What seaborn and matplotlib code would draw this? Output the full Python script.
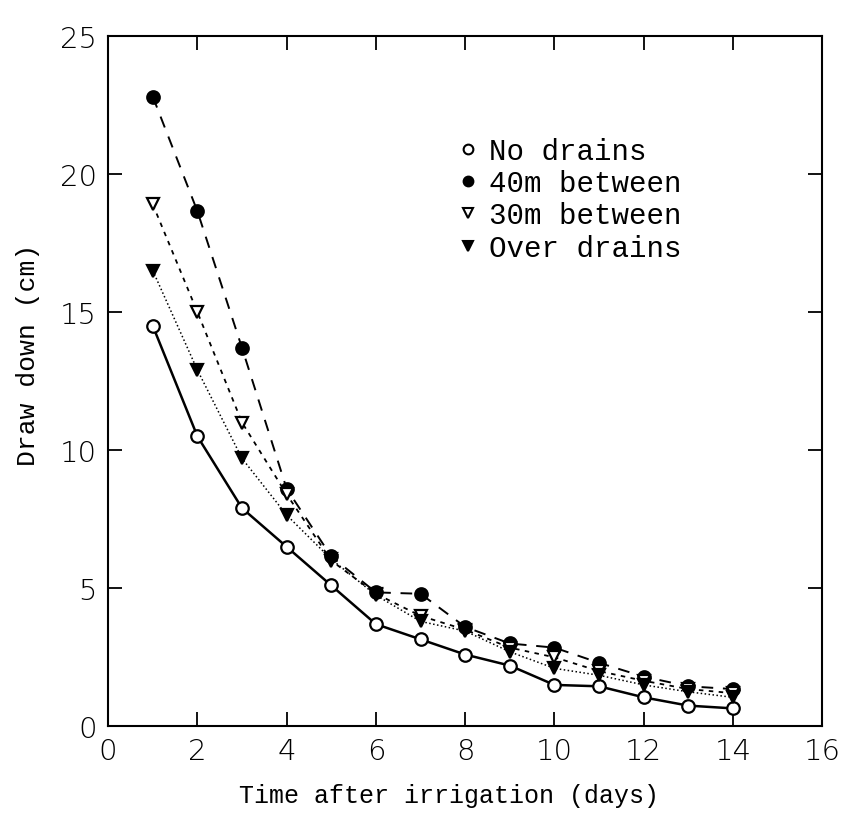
import pandas as pd
import matplotlib
matplotlib.use("Agg")
import matplotlib.pyplot as plt
from matplotlib.lines import Line2D
import seaborn as sns

# Days after irrigation
days = list(range(1, 15))

# Draw down (cm)
no_drains = [14.5, 10.5, 7.9, 6.5, 5.1, 3.7, 3.15, 2.6, 2.2, 1.5, 1.45, 1.05, 0.75, 0.65]
m40_between = [22.8, 18.65, 13.7, 8.6, 6.15, 4.85, 4.8, 3.6, 3.0, 2.85, 2.3, 1.8, 1.45, 1.35]
m30_between = [18.9, 15.0, 11.0, 8.4, 6.0, 4.8, 4.0, 3.5, 2.85, 2.5, 2.0, 1.65, 1.35, 1.2]
over_drains = [16.5, 12.9, 9.7, 7.65, 6.05, 4.75, 3.8, 3.45, 2.7, 2.1, 1.85, 1.5, 1.25, 1.05]

labels = ["No drains", "40m between", "30m between", "Over drains"]
series = [no_drains, m40_between, m30_between, over_drains]

xticks = [0, 2, 4, 6, 8, 10, 12, 14, 16]
yticks = [0, 5, 10, 15, 20, 25]

df = pd.concat(
    [pd.DataFrame({"day": days, "draw": vals, "treatment": lab}) for lab, vals in zip(labels, series)],
    ignore_index=True,
)

sns.set_style("ticks")
plt.rcParams["text.color"] = "black"
plt.rcParams["axes.labelcolor"] = "black"
mono = ["Liberation Mono", "DejaVu Sans Mono"]

fig = plt.figure(figsize=(8.45, 8.2), dpi=100)
ax = fig.add_axes([0.128, 0.113, 0.845, 0.842])

# marker, face, line style for each treatment
styles = {
    "No drains": dict(marker="o", mfc="white", ls="-", lw=1.8),
    "40m between": dict(marker="o", mfc="black", ls=(0, (6, 5)), lw=1.4),
    "30m between": dict(marker="v", mfc="white", ls=(0, (2.5, 3)), lw=1.3),
    "Over drains": dict(marker="v", mfc="black", ls=(0, (1, 1.6)), lw=1.1),
}

for lab in labels:
    st = styles[lab]
    sub = df[df["treatment"] == lab]
    sns.lineplot(
        data=sub, x="day", y="draw", ax=ax, color="black",
        marker=st["marker"], markersize=9, markerfacecolor=st["mfc"],
        markeredgecolor="black", markeredgewidth=1.6,
        linestyle=st["ls"], linewidth=st["lw"], legend=False,
    )

ax.set_xlim(0, 16)
ax.set_ylim(0, 25)
ax.set_xticks(xticks)
ax.set_xticklabels([str(t) for t in xticks])
ax.set_yticks(yticks)
ax.tick_params(direction="in", length=10, width=1.3, top=True, right=True,
               labelsize=21, pad=8, colors="black")
for lbl in ax.get_xticklabels() + ax.get_yticklabels():
    lbl.set_family(["DejaVu Sans"])
    lbl.set_fontweight("light")
for sp in ax.spines.values():
    sp.set_linewidth(1.5)
    sp.set_color("black")

ax.set_xlabel("Time after irrigation (days)", family=mono, fontsize=18)
ax.set_ylabel("Draw down (cm)", family=mono, fontsize=19)
ax.xaxis.set_label_coords(0.478, -0.082)
ax.yaxis.set_label_coords(-0.095, 0.54)

# legend shows markers only
handles = [
    Line2D([], [], linestyle="none", marker=styles[lab]["marker"], markersize=7,
           markerfacecolor=styles[lab]["mfc"], markeredgecolor="black", markeredgewidth=1.5)
    for lab in labels
]
ax.legend(handles, labels, loc="upper left", bbox_to_anchor=(0.447, 0.892),
          frameon=False, handlelength=1.0, handletextpad=0.2, labelspacing=0.15,
          prop={"family": mono, "size": 21})

fig.savefig("out.png", dpi=100, facecolor="white")
